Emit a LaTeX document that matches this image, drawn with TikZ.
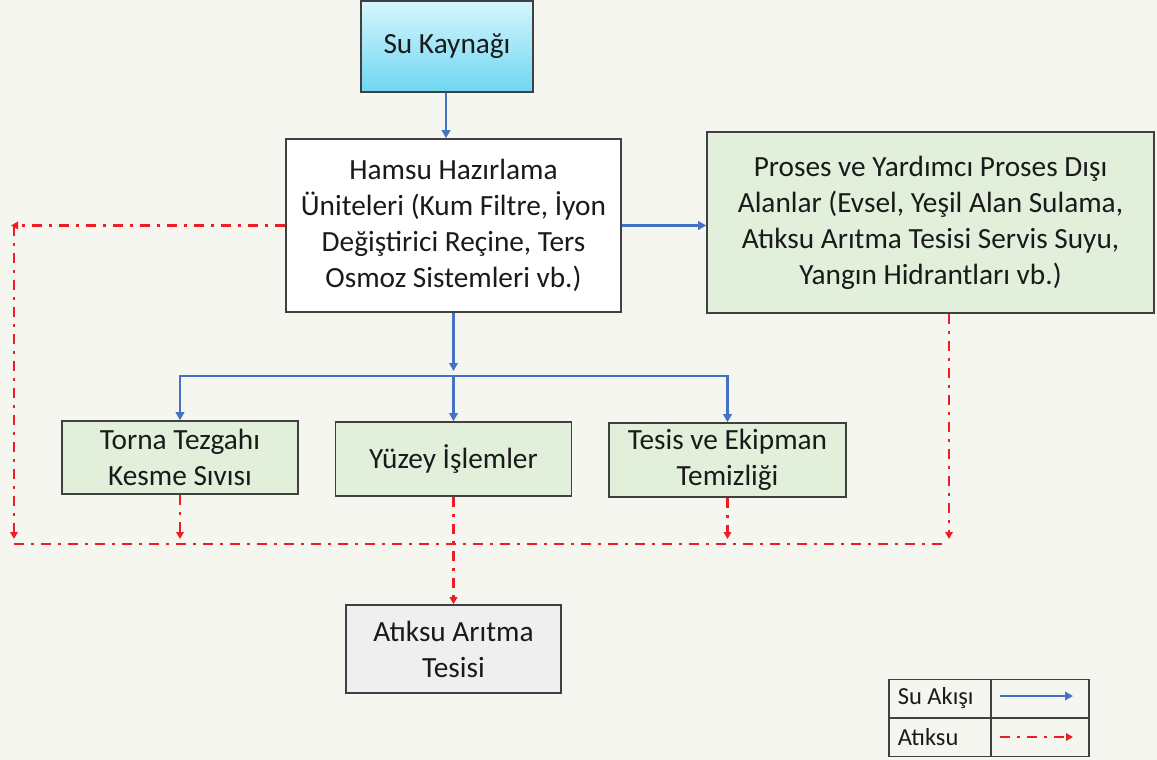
\documentclass[tikz,border=0pt]{standalone}
\usepackage{fontspec}
\setmainfont{Carlito}
\usetikzlibrary{arrows.meta}
\definecolor{bg}{HTML}{F6F6F1}
\definecolor{bluel}{HTML}{4472C4}
\definecolor{redl}{HTML}{EE1C25}
\definecolor{greenf}{HTML}{E2EFDA}
\definecolor{grayf}{HTML}{EFEFEF}
\definecolor{bord}{HTML}{404040}
\definecolor{cyantop}{HTML}{D6F6FC}
\definecolor{cyanbot}{HTML}{6ED6F2}
\definecolor{txt}{HTML}{1A1A1A}
\tikzset{
  box/.style={draw=bord, line width=1.6pt, align=center, inner sep=0pt,
    font=\fontsize{29.3}{36}\selectfont, text=txt},
  greenbox/.style={box, fill=greenf},
  legcell/.style={draw=bord, line width=1.5pt, inner sep=0pt, minimum height=38.5pt},
  legtext/.style={font=\fontsize{24.5}{28}\selectfont, text=txt, anchor=west, xshift=6pt},
  flow/.style={draw=bluel, line width=2.7pt, -{Triangle[length=8pt,width=8.5pt]}},
  wasteline/.style={draw=redl, line width=2.3pt, dash pattern=on 10pt off 7pt on 3pt off 7pt},
  waste/.style={wasteline, -{Triangle[length=7pt,width=7.5pt]}},
}
\begin{document}
\begin{tikzpicture}[x=1pt,y=-1pt]
\fill[bg] (0,0) rectangle (1157,760);
\useasboundingbox (0,0) rectangle (1157,760);

% nodes
\node[box, top color=cyantop, bottom color=cyanbot, minimum width=172pt, minimum height=91pt] (su) at (447,46.5) {Su Kaynağı};
\node[box, fill=white, minimum width=335pt, minimum height=173pt] (hamsu) at (453.5,225.5)
  {Hamsu Hazırlama\\Üniteleri (Kum Filtre, İyon\\Değiştirici Reçine, Ters\\Osmoz Sistemleri vb.)};
\node[greenbox, minimum width=447pt, minimum height=181pt] (proses) at (930.5,222.5)
  {Proses ve Yardımcı Proses Dışı\\Alanlar (Evsel, Yeşil Alan Sulama,\\Atıksu Arıtma Tesisi Servis Suyu,\\Yangın Hidrantları vb.)};
\node[greenbox, minimum width=236pt, minimum height=73pt] (torna) at (180,457.5) {Torna Tezgahı\\Kesme Sıvısı};
\node[greenbox, minimum width=236pt, minimum height=74pt] (yuzey) at (453.5,459) {Yüzey İşlemler};
\node[greenbox, minimum width=237pt, minimum height=74pt] (tesis) at (727.5,460) {Tesis ve Ekipman\\Temizliği};
\node[box, fill=grayf, minimum width=215pt, minimum height=88pt] (aat) at (453.5,649) {Atıksu Arıtma\\Tesisi};

% coordinates
\coordinate (jn) at (453.5,376);
\coordinate (lt) at (14,225.5);
\coordinate (lb) at (14,544);
\coordinate (rb) at (949,544);

% water flow
\draw[flow] (su.south -| 446,0) -- (hamsu.north -| 446,0);
\draw[flow] (hamsu.east) -- (hamsu.east -| proses.west);
\draw[flow, shorten >=5pt] (hamsu.south) -- (jn);
\draw[draw=bluel, line width=2.7pt] (torna.north |- jn) -- (tesis.north |- jn);
\draw[flow] (jn) -| (torna.north);
\draw[flow] (jn) -- (yuzey.north);
\draw[flow] (jn) -| (tesis.north);

% waste water
\draw[waste, shorten >=-3pt] (hamsu.west) -- (lt);
\draw[waste, shorten >=5pt] (lt) -- (lb);
\draw[wasteline] (lb) -- (rb);
\draw[waste, shorten >=5pt] (torna.south) -- (torna.south |- lb);
\draw[waste, shorten >=5pt] (tesis.south) -- (tesis.south |- lb);
\draw[waste, shorten >=5pt] (proses.south -| rb) -- (rb);
\draw[waste] (yuzey.south) -- (aat.north);

% legend
\node[legcell, minimum width=102pt, label={[legtext]west:Su Akışı}] (l11) at (940,698.5) {};
\node[legcell, minimum width=98pt] (l12) at (1040,698.5) {};
\node[legcell, minimum width=102pt, label={[legtext]west:Atıksu}] (l21) at (940,737) {};
\node[legcell, minimum width=98pt] (l22) at (1040,737) {};
\coordinate (a1s) at (1000,696);
\coordinate (a1e) at (1073,696);
\coordinate (a2s) at (1000,737);
\coordinate (a2e) at (1073,737);
\draw[flow] (a1s) -- (a1e);
\draw[waste] (a2s) -- (a2e);
\end{tikzpicture}
\end{document}
